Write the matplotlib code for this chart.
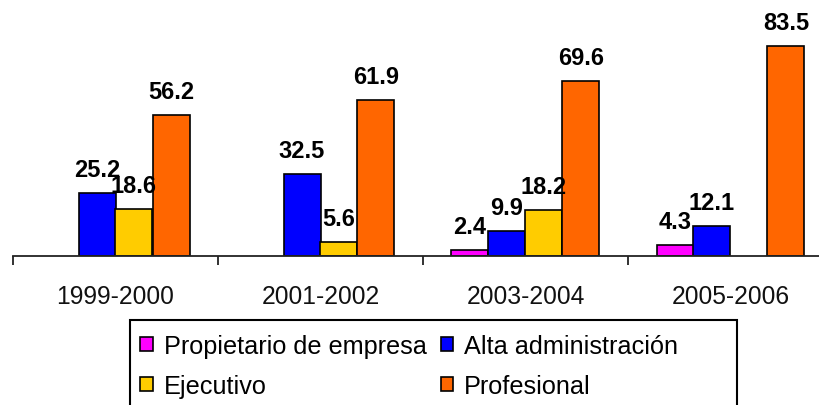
import matplotlib
matplotlib.use('Agg')
import matplotlib.pyplot as plt
from matplotlib.patches import Rectangle
import numpy as np

plt.rcParams['font.family'] = ['Liberation Sans', 'DejaVu Sans']

periodos = ['1999-2000', '2001-2002', '2003-2004', '2005-2006']
series = ['Propietario de empresa', 'Alta administración', 'Ejecutivo', 'Profesional']
propietario = [np.nan, np.nan, 2.4, 4.3]
alta = [25.2, 32.5, 9.9, 12.1]
ejecutivo = [18.6, 5.6, 18.2, np.nan]
profesional = [56.2, 61.9, 69.6, 83.5]
colores = ['#FF00FF', '#0000FF', '#FFCC00', '#FF6600']

W, H = 820, 406
fig = plt.figure(figsize=(W / 100, H / 100), dpi=100)
# axes runs a bit past the right edge, like the original crop
ax = fig.add_axes([13 / W, 1 - 257 / H, 820 / W, 257 / H])

x = np.arange(len(periodos))
w = 37 / 205
valores = [propietario, alta, ejecutivo, profesional]
barras = []
for i, (nombre, vals, c) in enumerate(zip(series, valores, colores)):
    pos = x + (i - 1.5) * w
    b = ax.bar(pos, vals, width=w, color=c, edgecolor='black', linewidth=1.2,
               label=nombre)
    barras.append(b)
    for xp, v in zip(pos, vals):
        if np.isnan(v):
            continue
        ax.annotate(f'{v:.1f}', (xp, v), xytext=(0, 12), textcoords='offset pixels',
                    ha='center', va='bottom', fontsize=17, fontweight='bold')

ax.set_xlim(-0.5, 3.5)
ax.set_ylim(0, 257 / 2.515)
for s in ['left', 'right', 'top']:
    ax.spines[s].set_visible(False)
ax.spines['bottom'].set_color('#222222')
ax.spines['bottom'].set_linewidth(1.3)
ax.set_yticks([])
ax.set_xticks(x)
ax.set_xticklabels(periodos, fontsize=17.7, color='#111111')
ax.tick_params(axis='x', which='major', length=0, pad=20)
ax.set_xticks(np.arange(-0.5, 4, 1), minor=True)
ax.tick_params(axis='x', which='minor', length=6.5, width=1.3, color='#222222',
               direction='out')

# legend frame drawn by hand, bottom edge falls outside the image
fig.patches.append(Rectangle((130 / W, 1 - 430 / H), (737 - 130) / W, 109 / H,
                             transform=fig.transFigure, fill=False,
                             edgecolor='black', linewidth=1.5))
# row-major order: matplotlib fills legend columns first
orden = [0, 2, 1, 3]
fig.legend([barras[k] for k in orden], [series[k] for k in orden],
           loc='upper left', bbox_to_anchor=(140 / W, 1 - 335 / H), ncol=2,
           frameon=False, fontsize=18.2, handlelength=0.51, handleheight=0.51,
           handletextpad=0.43, columnspacing=0.55, labelspacing=0.63,
           borderpad=0, borderaxespad=0)

fig.savefig('out.png', dpi=100)
